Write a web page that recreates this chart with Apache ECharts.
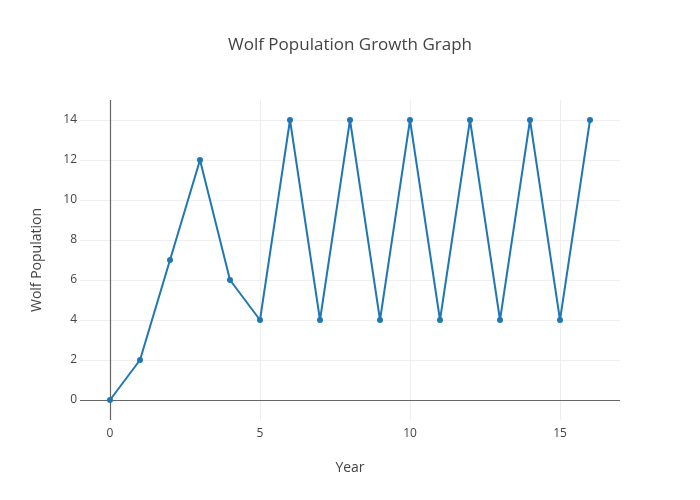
<!DOCTYPE html>
<html><head><meta charset="utf-8">
<script src="https://cdn.jsdelivr.net/npm/echarts@6/dist/echarts.min.js"></script>
<style>html,body{margin:0;padding:0;background:#fff}#c{width:700px;height:500px}</style>
</head><body><div id="c"></div>
<script>
var years = [0,1,2,3,4,5,6,7,8,9,10,11,12,13,14,15,16];
var wolves = [0,2,7,12,6,4,14,4,14,4,14,4,14,4,14,4,14];
var xTicks = [0,5,10,15];
var yTicks = [0,2,4,6,8,10,12,14];
var chart = echarts.init(document.getElementById('c'), null, {renderer:'canvas'});
var F = '"Open Sans", sans-serif';
chart.setOption({
  animation:false,
  backgroundColor:'#fff',
  title:{text:'Wolf Population Growth Graph', left:'center', top:32,
    textStyle:{fontFamily:F, fontSize:17, fontWeight:'normal', color:'#444'}},
  grid:{left:80, right:80, top:100, bottom:80},
  xAxis:{type:'value', min:-1, max:17, name:'Year', nameLocation:'middle', nameGap:41,
    nameTextStyle:{fontFamily:F, fontSize:14, color:'#444'},
    axisLine:{show:false}, axisTick:{show:false, customValues:xTicks},
    axisLabel:{customValues:xTicks, margin:8, fontFamily:F, fontSize:12, color:'#444'},
    splitLine:{show:true, lineStyle:{color:'#eee', width:1}}},
  yAxis:{type:'value', min:-1, max:15, name:'Wolf Population', nameLocation:'middle', nameGap:36,
    nameTextStyle:{fontFamily:F, fontSize:14, color:'#444'},
    axisLine:{show:false}, axisTick:{show:false, customValues:yTicks},
    axisLabel:{customValues:yTicks, margin:3, fontFamily:F, fontSize:12, color:'#444'},
    splitLine:{show:true, lineStyle:{color:'#eee', width:1}}},
  series:[{type:'line', data:years.map(function(x,i){return [x,wolves[i]];}),
    lineStyle:{color:'#1f77b4', width:2}, itemStyle:{color:'#1f77b4'},
    symbol:'circle', symbolSize:6, z:3,
    markLine:{silent:true, symbol:'none', label:{show:false}, z:2,
      lineStyle:{color:'#666', width:1.2, type:'solid'},
      data:[{xAxis:0},{yAxis:0}]}}]
});
</script></body></html>
